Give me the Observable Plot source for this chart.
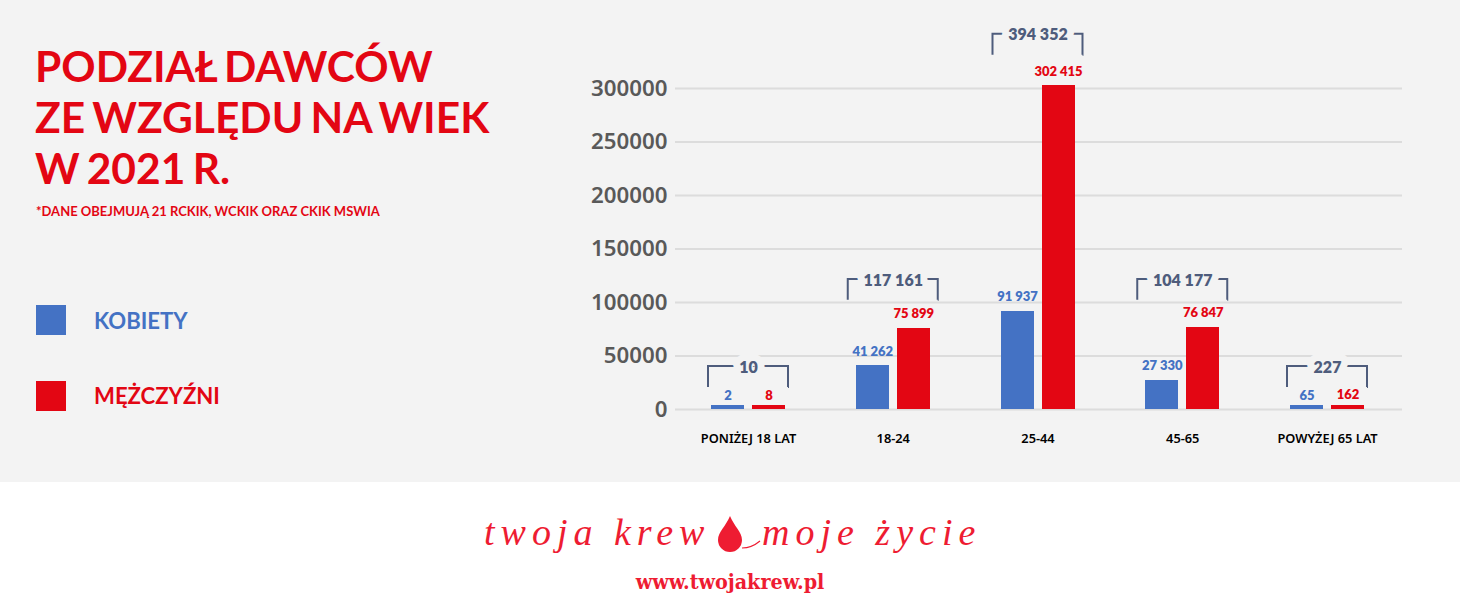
<!DOCTYPE html>
<html lang="pl"><head><meta charset="utf-8">
<script src="https://cdn.jsdelivr.net/npm/d3@7"></script>
<script src="https://cdn.jsdelivr.net/npm/@observablehq/plot@0.6"></script>
<style>
html,body{margin:0;padding:0;background:#fff;width:1460px;height:616px;overflow:hidden}
#stage{position:relative;width:1460px;height:616px;font-family:Lato,sans-serif}
#panel{position:absolute;left:0;top:0;width:1460px;height:482px;background:#f3f3f3}
#chart{position:absolute;left:0;top:0}
.abs{position:absolute;white-space:nowrap}
h1{position:absolute;left:35px;top:40px;margin:0;font:700 42.5px/51px Lato,sans-serif;word-spacing:-3px;color:#e30613}
#note{left:36px;top:204px;font:700 13px/14px Lato,sans-serif;color:#e30613}
.sw{position:absolute;left:36px;width:30px;height:30px}
.lg{left:94px;font:700 22.1px/26px Lato,sans-serif}
#slog1,#slog2{font:italic 400 38px/44px "Liberation Serif",serif;color:#ee1c32;letter-spacing:6px}
#www{left:0;width:1460px;text-align:center;top:568px;font:700 21.3px/28px "DejaVu Serif",serif;font-stretch:condensed;color:#ee1c32}
</style></head><body>
<div id="stage">
<div id="panel"></div>
<div id="chart"></div>
<h1>PODZIAŁ DAWCÓW<br>ZE WZGLĘDU NA WIEK<br>W 2021 R.</h1>
<div class="abs" id="note">*DANE OBEJMUJĄ 21 RCKIK, WCKIK ORAZ CKIK MSWIA</div>
<div class="sw" style="top:305px;background:#4472c4"></div>
<div class="abs lg" style="top:308px;color:#4472c4">KOBIETY</div>
<div class="sw" style="top:381px;background:#e30613"></div>
<div class="abs lg" style="top:383px;color:#e30613">MĘŻCZYŹNI</div>
<div class="abs" id="slog1" style="left:484px;top:510px">twoja krew</div>
<svg class="abs" style="left:716px;top:512px" width="50" height="42" viewBox="0 0 50 42"><path d="M14 4C10 14 2 20 2 28a12 12 0 0 0 24 0C26 20 18 14 14 4Z" fill="#ee1c32"/><path d="M26 36C32 36 38 34 44 29" fill="none" stroke="#ee1c32" stroke-width="1.2"/></svg>
<div class="abs" id="slog2" style="left:762px;top:510px">moje życie</div>
<div class="abs" id="www">www.twojakrew.pl</div>
</div>
<script>
const categories = ["PONIŻEJ 18 LAT", "18-24", "25-44", "45-65", "POWYŻEJ 65 LAT"];
const kobiety = [2, 41262, 91937, 27330, 65];
const mezczyzni = [8, 75899, 302415, 76847, 162];
const yTicks = [0, 50000, 100000, 150000, 200000, 250000, 300000];
const bracketBase = [20500, 102000, 331000, 102000, 20500];

const BLUE = "#4472c4", RED = "#e30613", SLATE = "#4e5c7c", BG = "#f3f3f3";
const minBar = 3700;          // the reference keeps tiny bars visible
const bracketHeight = 19600;  // in value units, about 21px
const fmt = d3.formatLocale({decimal: ",", thousands: " ", grouping: [3], currency: ["", ""]}).format(",d");

const rows = (values) => values.map((value, i) => ({cat: categories[i], value, top: Math.max(value, minBar)}));
const totals = categories.map((cat, i) => ({cat, total: kobiety[i] + mezczyzni[i], base: bracketBase[i]}));

const bandW = 144.75, barW = 33, shift = 20.5;
const barInset = (bandW - barW) / 2;

function bars(data, fill, dx) {
  return [
    Plot.barY(data, {x: "cat", y1: 0, y2: "top", fill, dx, insetLeft: barInset, insetRight: barInset, shapeRendering: "crispEdges"}),
    Plot.text(data, {x: "cat", y: "value", text: d => fmt(d.value), dx, dy: -14, fill,
      fontSize: 13, fontWeight: 800, lineAnchor: "middle"})
  ];
}
function bracket(data, w) {
  const inset = (bandW - w) / 2, h = 21;
  return Plot.barY(data, {x: "cat", y1: "base", y2: d => d.base + bracketHeight, fill: "none",
    stroke: SLATE, strokeWidth: 2, insetLeft: inset, insetRight: inset,
    strokeDasharray: `${w + h} ${w} ${h}`});
}

const plot = Plot.plot({
  width: 1460, height: 482,
  marginLeft: 675, marginRight: 58, marginTop: 88, marginBottom: 73,
  style: {background: "transparent", fontFamily: "Lato, sans-serif", overflow: "visible"},
  x: {domain: categories, range: [675.625, 1399.375], padding: 0, round: false, label: null},
  y: {domain: [0, 300000], label: null},
  marks: [
    Plot.ruleY(yTicks, {stroke: "#dcdcdc", strokeWidth: 2}),
    Plot.axisY({ticks: yTicks, tickSize: 0, tickFormat: "d", label: null, tickPadding: 8,
      fontSize: 22.3, fontWeight: 600, fill: "#595959", fontFamily: "Noto Sans, sans-serif"}),
    Plot.axisX({tickSize: 0, tickPadding: 24, label: null, fontSize: 12.8, fontWeight: 600,
      fill: "#000", fontFamily: "Noto Sans, sans-serif"}),
    ...bars(rows(kobiety), BLUE, -shift),
    ...bars(rows(mezczyzni), RED, shift),
    bracket(totals.filter(d => d.total < 1000), 80),
    bracket(totals.filter(d => d.total >= 1000), 90),
    Plot.text(totals, {x: "cat", y: d => d.base + bracketHeight, dy: 1, text: d => fmt(d.total), fill: SLATE,
      stroke: BG, strokeWidth: 14, paintOrder: "stroke", fontSize: 16, fontWeight: 800, lineAnchor: "middle"})
  ]
});
document.getElementById("chart").appendChild(plot);
</script>
</body></html>
